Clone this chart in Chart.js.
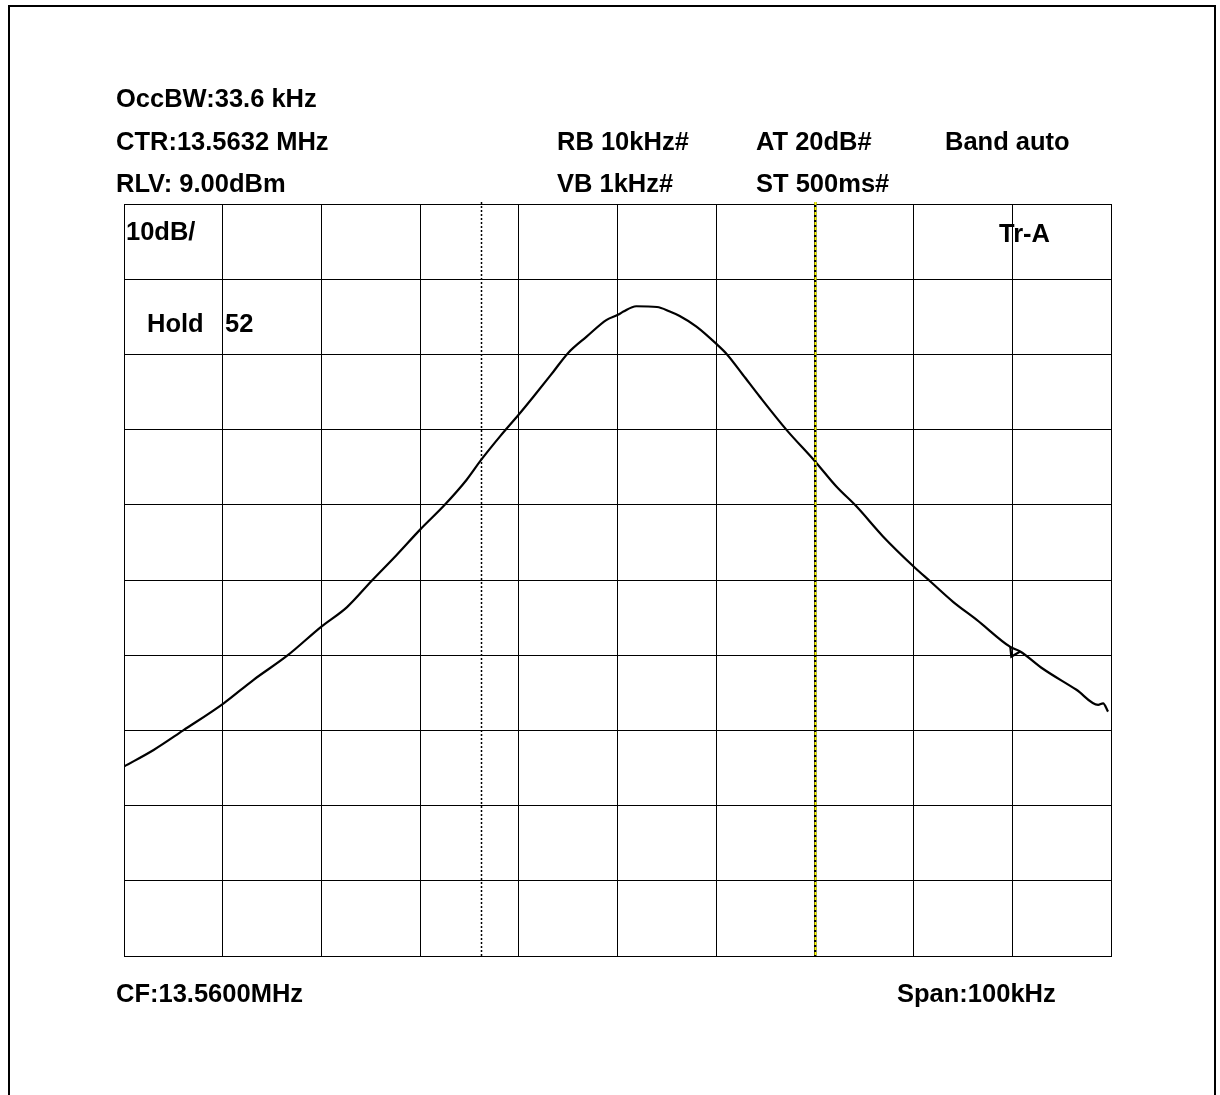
<!DOCTYPE html>
<html>
<head>
<meta charset="utf-8">
<script src="https://cdn.jsdelivr.net/npm/chart.js@4.4.1/dist/chart.umd.min.js"></script>
<style>
  html, body { margin: 0; padding: 0; background: #fff; }
  #wrap { width: 1220px; height: 1095px; position: relative; }
</style>
</head>
<body>
<div id="wrap"><canvas id="c" width="1220" height="1095"></canvas></div>
<script>
// Frequency offset from CF (kHz), span 100 kHz
const freqOffsetKHz = [-50.0, -47.0, -44.0, -39.9, -36.9, -33.4, -30.0, -27.4, -24.9, -22.4,
  -20.0, -17.5, -15.3, -13.8, -11.9, -10.0, -8.5, -6.5, -5.0, -3.1,
  -1.1, 0.1, 0.6, 1.9, 4.0, 5.3, 6.3, 8.0, 10.1, 11.1,
  12.7, 14.4, 17.1, 20.0, 22.2, 24.2, 26.9, 30.0, 31.7, 34.0,
  36.4, 39.8, 40.8, 43.1, 46.5, 48.7, 49.2, 49.7];
// Trace A level (dBm)
const levelDBm = [-65.8, -63.6, -61.0, -57.4, -54.3, -51.0, -47.2, -44.6, -41.1, -37.7,
  -34.3, -31.0, -27.7, -25.0, -21.9, -19.0, -16.6, -13.3, -10.8, -8.6,
  -6.4, -5.7, -5.3, -4.6, -4.7, -5.3, -5.9, -7.3, -9.7, -11.0,
  -13.7, -16.6, -21.0, -25.2, -28.6, -31.2, -35.2, -39.2, -41.2, -43.9,
  -46.3, -49.9, -50.5, -52.8, -55.6, -57.6, -57.4, -58.5];
// Small glitch on the trace near +40 kHz
const glitchKHz = [39.8, 39.9, 40.8];
const glitchDBm = [-49.9, -51.2, -50.5];
// Occupied-bandwidth markers (kHz offset)
const markerLeft = [-13.8];
const markerRight = [20.0];
// Scale settings
const refLevel = 9;          // RLV dBm
const dbPerDiv = 10;
const xTicksKHz = [-50, -40, -30, -20, -10, 0, 10, 20, 30, 40, 50];
// Header texts
const headerTexts = ["OccBW:33.6 kHz", "CTR:13.5632 MHz", "RLV: 9.00dBm", "RB 10kHz#", "AT 20dB#", "Band auto", "VB 1kHz#", "ST 500ms#"];
const insideTexts = ["10dB/", "Tr-A", "Hold", "52"];
const footerTexts = ["CF:13.5600MHz", "Span:100kHz"];

const points = freqOffsetKHz.map((x, i) => ({ x: x, y: levelDBm[i] }));
const glitchPoints = glitchKHz.map((x, i) => ({ x: x, y: glitchDBm[i] }));

const FONT = 'bold 25.5px "Liberation Sans", Arial, sans-serif';

const overlay = {
  id: 'overlay',
  beforeDraw(chart) {
    const ctx = chart.ctx;
    ctx.save();
    ctx.fillStyle = '#fff';
    ctx.fillRect(0, 0, chart.width, chart.height);
    ctx.restore();
  },
  afterDatasetsDraw(chart) {
    const ctx = chart.ctx;
    const xs = chart.scales.x;
    const top = chart.chartArea.top, bottom = chart.chartArea.bottom;
    ctx.save();
    // marker lines
    markerLeft.forEach(m => {
      const px = Math.round(xs.getPixelForValue(m)) + 0.5;
      ctx.lineWidth = 1.5;
      ctx.strokeStyle = '#000';
      ctx.setLineDash([2, 2]);
      ctx.beginPath(); ctx.moveTo(px, top - 2); ctx.lineTo(px, bottom); ctx.stroke();
    });
    markerRight.forEach(m => {
      const px = Math.round(xs.getPixelForValue(m)) + 0.5;
      ctx.lineWidth = 2;
      ctx.strokeStyle = '#000';
      ctx.setLineDash([]);
      ctx.beginPath(); ctx.moveTo(px, top - 2); ctx.lineTo(px, bottom); ctx.stroke();
      ctx.strokeStyle = '#ffff00';
      ctx.setLineDash([3, 2]);
      ctx.beginPath(); ctx.moveTo(px, top - 2); ctx.lineTo(px, bottom); ctx.stroke();
    });
    ctx.setLineDash([]);
    // outer frame
    ctx.strokeStyle = '#000';
    ctx.lineWidth = 2;
    ctx.beginPath();
    ctx.moveTo(9, 1100); ctx.lineTo(9, 6); ctx.lineTo(1215, 6); ctx.lineTo(1215, 1100);
    ctx.stroke();
    // texts
    ctx.fillStyle = '#000';
    ctx.font = FONT;
    ctx.textBaseline = 'middle';
    ctx.textAlign = 'left';
    const t = (s, x, y) => ctx.fillText(s, x, y);
    t(headerTexts[0], 116, 100);
    t(headerTexts[1], 116, 143);
    t(headerTexts[2], 116, 185);
    t(headerTexts[3], 557, 143);
    t(headerTexts[4], 756, 143);
    t(headerTexts[5], 945, 143);
    t(headerTexts[6], 557, 185);
    t(headerTexts[7], 756, 185);
    t(insideTexts[0], 126, 233);
    t(insideTexts[1], 999, 235);
    t(insideTexts[2], 147, 325);
    t(insideTexts[3], 225, 325);
    t(footerTexts[0], 116, 995);
    t(footerTexts[1], 897, 995);
    ctx.restore();
  }
};

new Chart(document.getElementById('c'), {
  type: 'scatter',
  data: {
    datasets: [{
      data: points,
      showLine: true,
      borderColor: '#000',
      borderWidth: 2.2,
      pointRadius: 0,
      cubicInterpolationMode: 'monotone',
      fill: false
    }, {
      data: glitchPoints,
      showLine: true,
      borderColor: '#000',
      borderWidth: 2.2,
      pointRadius: 0,
      tension: 0,
      fill: false
    }]
  },
  options: {
    responsive: false,
    animation: false,
    devicePixelRatio: 1,
    layout: { padding: { left: 124, right: 109, top: 204, bottom: 139 } },
    plugins: { legend: { display: false }, tooltip: { enabled: false }, title: { display: false } },
    scales: {
      x: {
        type: 'linear', min: xTicksKHz[0], max: xTicksKHz[xTicksKHz.length - 1],
        afterBuildTicks: (s) => { s.ticks = xTicksKHz.map(v => ({ value: v })); },
        ticks: { display: false },
        grid: { color: '#000', lineWidth: 1, drawTicks: false },
        border: { display: true, color: '#000', width: 1 }
      },
      y: {
        type: 'linear', min: refLevel - 10 * dbPerDiv, max: refLevel,
        ticks: { display: false, stepSize: dbPerDiv },
        afterBuildTicks: (s) => { const a = []; for (let i = 0; i <= 10; i++) a.push({ value: refLevel - 10 * dbPerDiv + i * dbPerDiv }); s.ticks = a; },
        grid: { color: '#000', lineWidth: 1, drawTicks: false },
        border: { display: true, color: '#000', width: 1 }
      }
    }
  },
  plugins: [overlay]
});
</script>
</body>
</html>
